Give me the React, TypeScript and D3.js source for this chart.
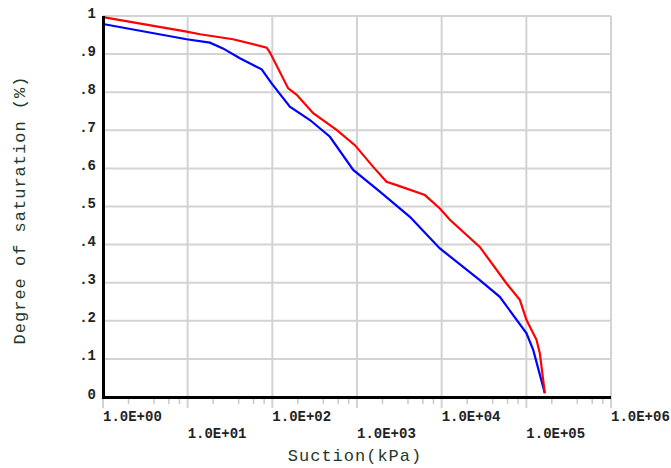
import React, { useRef, useEffect } from 'react';
import * as d3 from 'd3';

// suction (kPa) and degree of saturation
const redSuction = [1, 9.73, 14, 34.3, 85.7, 93.8, 154, 194, 304, 574, 944, 1553, 2234, 2935, 6339, 9520, 12500, 28200, 58400, 83800, 100500, 131900, 144300, 165300];
const redSaturation = [0.997, 0.959, 0.952, 0.939, 0.917, 0.904, 0.81, 0.793, 0.745, 0.701, 0.661, 0.604, 0.565, 0.556, 0.53, 0.495, 0.465, 0.394, 0.298, 0.255, 0.202, 0.15, 0.115, 0.01];

const blueSuction = [1, 9.73, 18.3, 26.1, 41.4, 74.8, 98.1, 161, 278, 479, 902, 1862, 4212, 9520, 28200, 48600, 100500, 120800, 165300];
const blueSaturation = [0.979, 0.939, 0.93, 0.915, 0.889, 0.86, 0.823, 0.762, 0.727, 0.683, 0.596, 0.539, 0.473, 0.39, 0.307, 0.263, 0.167, 0.123, 0.01];

const xDecades = [1, 10, 100, 1000, 10000, 100000, 1000000];
const xTickLabels = ['1.0E+00', '1.0E+01', '1.0E+02', '1.0E+03', '1.0E+04', '1.0E+05', '1.0E+06'];
const yTicks = [0, 0.1, 0.2, 0.3, 0.4, 0.5, 0.6, 0.7, 0.8, 0.9, 1];
const yTickLabels = ['0', '.1', '.2', '.3', '.4', '.5', '.6', '.7', '.8', '.9', '1'];

const MONO = '"Liberation Mono", "Courier New", monospace';

const App = () => {
    const svgRef = useRef<SVGSVGElement>(null);

    useEffect(() => {
        const width = 671;
        const height = 468;
        const svg = d3.select(svgRef.current);
        svg.selectAll('*').remove();
        svg.attr('width', width).attr('height', height);

        const x = d3.scaleLog().domain([1, 1e6]).range([103, 611]);
        const y = d3.scaleLinear().domain([0, 1]).range([397, 16]);

        // grid
        const grid = svg.append('g').attr('stroke', '#d3d3d3').attr('stroke-width', 2);
        yTicks.forEach(t => {
            grid.append('line')
                .attr('x1', x(1)).attr('x2', x(1e6))
                .attr('y1', y(t)).attr('y2', y(t));
        });
        xDecades.forEach(d => {
            grid.append('line')
                .attr('x1', x(d)).attr('x2', x(d))
                .attr('y1', y(1)).attr('y2', y(0) + 11);
        });

        // minor ticks at 2, 4, 6, 8
        const minor = svg.append('g').attr('stroke', '#c8c8c8').attr('stroke-width', 1.5);
        xDecades.slice(0, -1).forEach(d => {
            [2, 4, 6, 8].forEach(m => {
                minor.append('line')
                    .attr('x1', x(d * m)).attr('x2', x(d * m))
                    .attr('y1', y(0)).attr('y2', y(0) + 7);
            });
        });

        // curves
        const line = d3.line<[number, number]>()
            .x(d => x(d[0]))
            .y(d => y(d[1]));

        const redData = redSuction.map((s, i) => [s, redSaturation[i]] as [number, number]);
        const blueData = blueSuction.map((s, i) => [s, blueSaturation[i]] as [number, number]);

        svg.append('path')
            .datum(blueData)
            .attr('fill', 'none')
            .attr('stroke', '#0000ff')
            .attr('stroke-width', 2.2)
            .attr('d', line);

        svg.append('path')
            .datum(redData)
            .attr('fill', 'none')
            .attr('stroke', '#ff0000')
            .attr('stroke-width', 2.2)
            .attr('d', line);

        // axes
        svg.append('line')
            .attr('x1', x(1)).attr('x2', x(1e6))
            .attr('y1', y(0) + 0.5).attr('y2', y(0) + 0.5)
            .attr('stroke', '#000').attr('stroke-width', 3);
        svg.append('line')
            .attr('x1', x(1) + 0.5).attr('x2', x(1) + 0.5)
            .attr('y1', y(1)).attr('y2', y(0) + 2)
            .attr('stroke', '#000').attr('stroke-width', 3);

        // x tick labels, staggered
        svg.append('g')
            .selectAll('text')
            .data(xDecades)
            .join('text')
            .attr('x', d => x(d))
            .attr('y', (d, i) => (i % 2 === 0 ? 420.5 : 437.5))
            .attr('font-family', MONO)
            .attr('font-size', 14)
            .attr('font-weight', 'bold')
            .attr('fill', '#222')
            .text((d, i) => xTickLabels[i]);

        // y tick labels
        svg.append('g')
            .selectAll('text')
            .data(yTicks)
            .join('text')
            .attr('x', 96)
            .attr('y', d => y(d) + 1.5)
            .attr('text-anchor', 'end')
            .attr('font-family', MONO)
            .attr('font-size', 14)
            .attr('font-weight', 'bold')
            .attr('fill', '#222')
            .text((d, i) => yTickLabels[i]);

        // titles
        svg.append('text')
            .attr('x', 355)
            .attr('y', 460.5)
            .attr('text-anchor', 'middle')
            .attr('font-family', MONO)
            .attr('font-size', 17)
            .attr('letter-spacing', 1)
            .attr('fill', '#1e3a2a')
            .text('Suction(kPa)');

        svg.append('text')
            .attr('transform', 'translate(25,210) rotate(-90)')
            .attr('text-anchor', 'middle')
            .attr('font-family', MONO)
            .attr('font-size', 17)
            .attr('letter-spacing', 1)
            .attr('fill', '#1e3a2a')
            .text('Degree of saturation (%)');
    }, []);

    return (
        <div style={{ position: 'fixed', left: 0, top: 0, width: 671, height: 468, background: '#fff' }}>
            <svg ref={svgRef}></svg>
        </div>
    );
};

export default App;
